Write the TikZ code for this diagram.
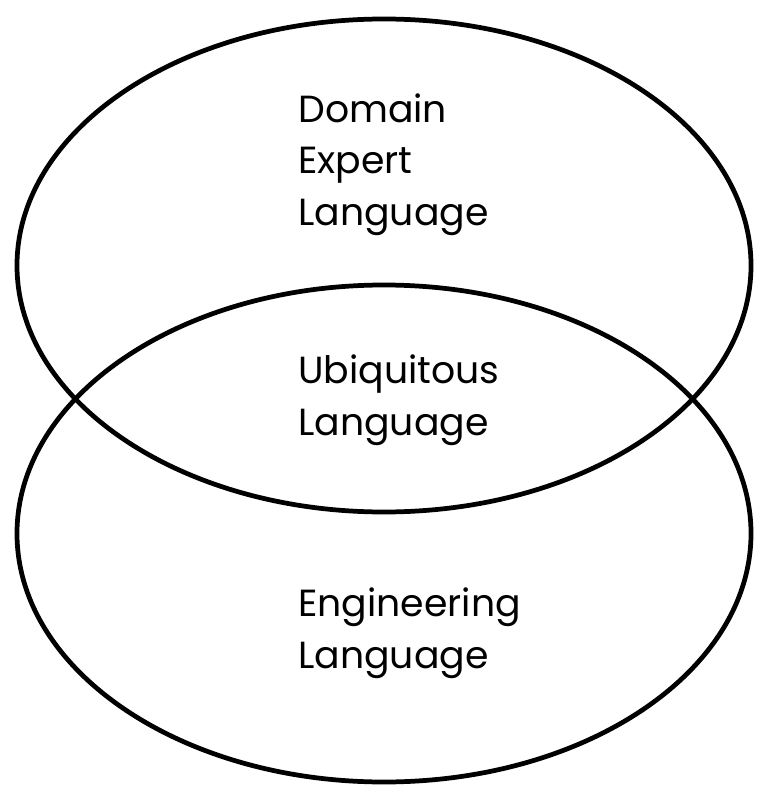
\documentclass[tikz,border=0pt]{standalone}
\usepackage{fontspec}
\setmainfont{Poppins}
\usetikzlibrary{positioning}

\begin{document}
\begin{tikzpicture}[x=0.02cm,y=-0.02cm,
    venn/.style={line width=2.7pt},
    label/.style={align=left,anchor=base west,font=\fontsize{21.5}{29.3}\selectfont,inner sep=0pt}]
                    \useasboundingbox (0,0) rectangle (768,797);
                    \coordinate (T) at (384,265.5);  % upper ellipse
                    \coordinate (B) at (384,533.5);  % lower ellipse

                    \draw[venn] (T) ellipse [x radius=367, y radius=246.5];
                    \draw[venn] (B) ellipse [x radius=367, y radius=248.5];

                    \node[label] (domain) at (298,225) {Domain\\Expert\\Language};
                    \node[label] (ubiq) at (298,435) {Ubiquitous\\Language};
                    \node[label] (eng) at (298,668) {Engineering\\Language};
\end{tikzpicture}
\end{document}
